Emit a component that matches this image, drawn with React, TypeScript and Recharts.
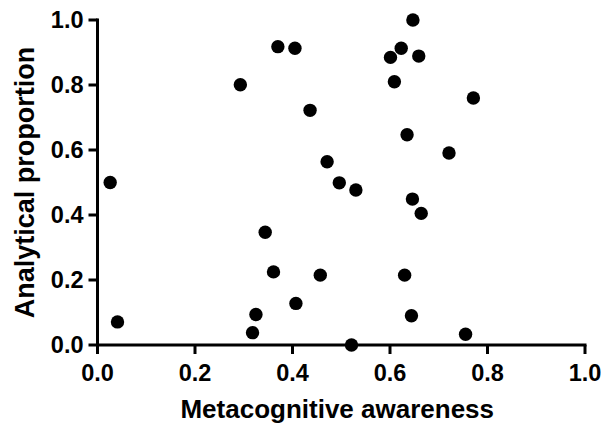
import { Scatter, ScatterChart, XAxis, YAxis } from "recharts";

const WIDTH = 608;
const HEIGHT = 427;
const FONT = "'Liberation Sans', Arial, Helvetica, sans-serif";

// metacognitive awareness (x) and analytical proportion (y), one entry per participant
const awareness = [
  0.026, 0.041, 0.293, 0.318, 0.325, 0.344, 0.361, 0.37, 0.405, 0.407, 0.436,
  0.457, 0.471, 0.496, 0.521, 0.53, 0.601, 0.609, 0.623, 0.63, 0.635, 0.644,
  0.646, 0.647, 0.659, 0.664, 0.721, 0.755, 0.771,
];
const proportion = [
  0.5, 0.071, 0.801, 0.038, 0.094, 0.347, 0.225, 0.918, 0.913, 0.128, 0.722,
  0.215, 0.564, 0.499, 0.0, 0.477, 0.885, 0.81, 0.913, 0.215, 0.647, 0.09,
  0.449, 1.0, 0.889, 0.405, 0.591, 0.033, 0.76,
];
const ticks = [0, 0.2, 0.4, 0.6, 0.8, 1.0];

const points = awareness.map((x, i) => ({ x, y: proportion[i] }));

const axisLine = { stroke: "#000", strokeWidth: 3, strokeLinecap: "square" as const };
const tickLine = { stroke: "#000", strokeWidth: 3 };
const tickFont = { fontSize: 23.5, fontWeight: 700, fill: "#000", fontFamily: FONT };

function Dot(props: any) {
  return <circle cx={props.cx} cy={props.cy} r={6.7} fill="#000" />;
}

function YTitle({ viewBox }: any) {
  const x = viewBox.x + 34;
  const y = viewBox.y + viewBox.height / 2;
  return (
    <text
      x={x}
      y={y}
      transform={`rotate(-90 ${x} ${y})`}
      textAnchor="middle"
      fontSize={27}
      fontWeight={700}
      fontFamily={FONT}
      fill="#000"
    >
      Analytical proportion
    </text>
  );
}

function XTitle({ viewBox }: any) {
  const x = viewBox.x + viewBox.width / 2 - 4;
  const y = viewBox.y + 73;
  return (
    <text
      x={x}
      y={y}
      textAnchor="middle"
      fontSize={26}
      fontWeight={700}
      fontFamily={FONT}
      fill="#000"
    >
      Metacognitive awareness
    </text>
  );
}

export default function App() {
  return (
    <div style={{ position: "absolute", left: 0, top: 0, background: "#fff" }}>
      <ScatterChart
        width={WIDTH}
        height={HEIGHT}
        margin={{ top: 20, right: 23, bottom: 0, left: 0 }}
      >
        <XAxis
          type="number"
          dataKey="x"
          domain={[0, 1]}
          ticks={ticks}
          tickFormatter={(v: number) => v.toFixed(1)}
          height={82}
          axisLine={axisLine}
          tickLine={tickLine}
          tickSize={9}
          tickMargin={10}
          tick={tickFont}
          interval={0}
          label={<XTitle />}
        />
        <YAxis
          type="number"
          dataKey="y"
          domain={[0, 1]}
          ticks={ticks}
          tickFormatter={(v: number) => v.toFixed(1)}
          width={97.5}
          axisLine={axisLine}
          tickLine={tickLine}
          tickSize={9}
          tickMargin={5}
          tick={tickFont}
          interval={0}
          label={<YTitle />}
        />
        <Scatter data={points} fill="#000" shape={<Dot />} isAnimationActive={false} />
      </ScatterChart>
    </div>
  );
}
